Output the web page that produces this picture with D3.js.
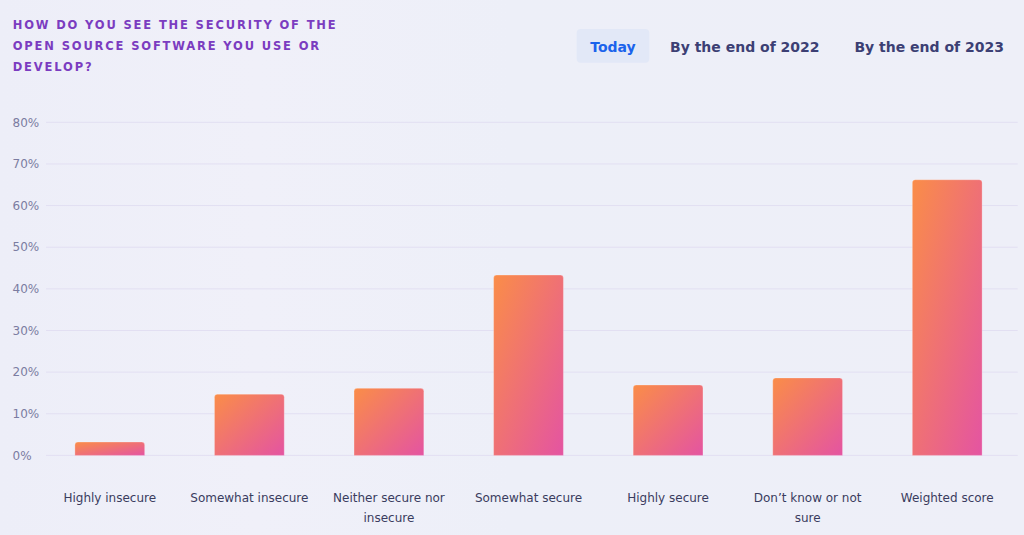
<!DOCTYPE html>
<html>
<head>
<meta charset="utf-8">
<script src="https://cdn.jsdelivr.net/npm/d3@7"></script>
<style>
  html, body { margin: 0; padding: 0; background: #eeeff8; }
  svg { display: block; font-family: "DejaVu Sans", sans-serif; }
</style>
</head>
<body>
<svg id="chart" width="1024" height="535"></svg>
<script>
const titleLines = ["HOW DO YOU SEE THE SECURITY OF THE", "OPEN SOURCE SOFTWARE YOU USE OR", "DEVELOP?"];
const buttonLabels = ["Today", "By the end of 2022", "By the end of 2023"];
const categories = ["Highly insecure", "Somewhat insecure", "Neither secure nor insecure", "Somewhat secure", "Highly secure", "Don’t know or not sure", "Weighted score"];
const values = [3.2, 14.7, 16.1, 43.3, 16.9, 18.6, 66.2];
const yTicks = [0, 10, 20, 30, 40, 50, 60, 70, 80];

const svg = d3.select("#chart");
const W = 1024, H = 535;

const defs = svg.append("defs");
const bg = defs.append("linearGradient").attr("id", "bg").attr("x1", 0).attr("x2", 1).attr("y1", 0).attr("y2", 0);
bg.append("stop").attr("offset", "0").attr("stop-color", "#edeef8");
bg.append("stop").attr("offset", "0.25").attr("stop-color", "#f0f0f9");
bg.append("stop").attr("offset", "0.5").attr("stop-color", "#edeff8");
bg.append("stop").attr("offset", "1").attr("stop-color", "#eeeff8");
svg.append("rect").attr("width", W).attr("height", H).attr("fill", "url(#bg)");

const grad = defs.append("linearGradient").attr("id", "barGrad")
  .attr("x1", 0).attr("y1", 0).attr("x2", 1).attr("y2", 1);
grad.append("stop").attr("offset", "0").attr("stop-color", "#fa8d48");
grad.append("stop").attr("offset", "1").attr("stop-color", "#e454a2");

// Title
const title = svg.append("text").attr("fill", "#7b3cc0")
  .attr("font-size", 11.5).attr("font-weight", "bold").attr("letter-spacing", "1.85px");
title.selectAll("tspan").data(titleLines).join("tspan")
  .attr("x", 12.7).attr("y", (d, i) => 28.8 + i * 21).text(d => d);

// Buttons
const btnCenters = [613, 744.8, 929.2];
svg.append("rect").attr("x", 576.7).attr("y", 29).attr("width", 72.6).attr("height", 33.7)
  .attr("rx", 4).attr("fill", "#e2e8f7");
svg.selectAll("text.btn").data(buttonLabels).join("text").attr("class", "btn")
  .attr("x", (d, i) => btnCenters[i]).attr("y", 51.5)
  .attr("text-anchor", "middle").attr("font-size", 14).attr("font-weight", "bold")
  .attr("fill", (d, i) => i === 0 ? "#1b63ec" : "#3c3f74")
  .text(d => d);

// Scales
const x = d3.scaleBand().domain(categories).range([40, 1017]).paddingInner(0.5).paddingOuter(0.25);
const y = d3.scaleLinear().domain([0, 80]).range([455.4, 122.3]);

// Grid
svg.append("g").selectAll("line").data(yTicks).join("line")
  .attr("x1", 46).attr("x2", 1017.7)
  .attr("y1", d => y(d)).attr("y2", d => y(d))
  .attr("stroke", "#e2dff2").attr("stroke-width", 1);

// Y labels
svg.append("g").selectAll("text").data(yTicks).join("text")
  .attr("x", 12.5).attr("y", d => y(d)).attr("dy", "0.35em")
  .attr("font-size", 12).attr("fill", "#7b7ca1")
  .text(d => d + "%");

// Bars
const r = 3;
svg.append("g").selectAll("path").data(values).join("path")
  .attr("d", (d, i) => {
    const x0 = x(categories[i]), w = x.bandwidth(), y0 = y(d), yb = y(0);
    return `M${x0},${yb}V${y0 + r}Q${x0},${y0} ${x0 + r},${y0}H${x0 + w - r}Q${x0 + w},${y0} ${x0 + w},${y0 + r}V${yb}Z`;
  })
  .attr("fill", "url(#barGrad)")
  .attr("stroke", "rgba(255,255,255,0.25)").attr("stroke-width", 1);

// X labels with wrapping
function wrapLines(text, maxW) {
  const words = text.split(" ");
  const lines = [];
  let cur = "";
  const ctx = document.createElement("canvas").getContext("2d");
  ctx.font = "12px 'DejaVu Sans'";
  words.forEach(wd => {
    const test = cur ? cur + " " + wd : wd;
    if (ctx.measureText(test).width > maxW && cur) { lines.push(cur); cur = wd; }
    else cur = test;
  });
  if (cur) lines.push(cur);
  return lines;
}
const xl = svg.append("g").selectAll("text").data(categories).join("text")
  .attr("text-anchor", "middle").attr("font-size", 12).attr("fill", "#3a3c5e");
xl.each(function(d) {
  const lines = wrapLines(d, 122);
  d3.select(this).selectAll("tspan").data(lines).join("tspan")
    .attr("x", x(d) + x.bandwidth() / 2)
    .attr("y", (l, i) => 501.5 + i * 20.5)
    .text(l => l);
});
</script>
</body>
</html>
